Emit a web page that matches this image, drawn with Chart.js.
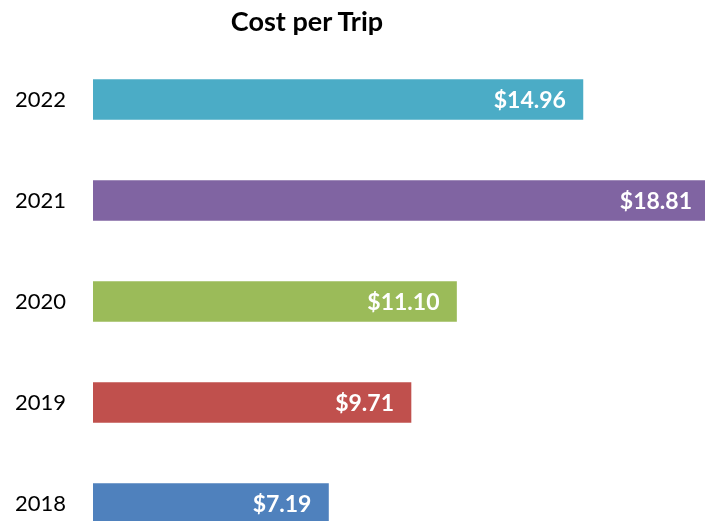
<!DOCTYPE html>
<html>
<head>
<meta charset="utf-8">
<script src="https://cdn.jsdelivr.net/npm/chart.js@4"></script>
<style>
    html, body { margin: 0; padding: 0; background: #fff; overflow: hidden; }
    #frame { position: relative; width: 705px; height: 521px; overflow: hidden; }
    #costChart { position: absolute; left: 0; top: 0; }
    #title {
        position: absolute; left: 157px; top: 7px; width: 300px;
        text-align: center; font: bold 27px Lato, sans-serif; line-height: 27px; color: #000;
    }
</style>
</head>
<body>
<div id="frame">
    <canvas id="costChart" width="720" height="560"></canvas>
    <div id="title">Cost per Trip</div>
</div>
<script>
const years = ['2022', '2021', '2020', '2019', '2018'];
const costPerTrip = [14.96, 18.81, 11.10, 9.71, 7.19];
const barColors = ['#4BACC6', '#8064A2', '#9BBB59', '#C0504D', '#4F81BD'];

// white value labels drawn inside the end of each bar
const valueLabels = {
    id: 'valueLabels',
    afterDatasetsDraw(chart) {
        const ctx = chart.ctx;
        const meta = chart.getDatasetMeta(0);
        ctx.save();
        ctx.font = 'bold 23px Lato, sans-serif';
        ctx.fillStyle = '#fff';
        ctx.textAlign = 'right';
        ctx.textBaseline = 'middle';
        meta.data.forEach(function (bar, i) {
            ctx.fillText('$' + costPerTrip[i].toFixed(2), bar.x - 17, bar.y + 1);
        });
        ctx.restore();
    }
};

new Chart(document.getElementById('costChart').getContext('2d'), {
    type: 'bar',
    data: {
        labels: years,
        datasets: [{
            data: costPerTrip,
            backgroundColor: barColors,
            barThickness: 40
        }]
    },
    options: {
        indexAxis: 'y',
        responsive: false,
        animation: false,
        layout: { padding: { top: 49, right: 11, bottom: 6, left: 0 } },
        plugins: {
            legend: { display: false },
            tooltip: { enabled: false },
            title: { display: false }
        },
        scales: {
            x: { display: false, min: 0, max: 18.81 },
            y: {
                grid: { display: false, drawTicks: false },
                border: { display: false },
                ticks: {
                    color: '#000',
                    padding: 27,
                    font: { family: 'Lato', size: 22 }
                },
                afterFit: function (axis) {
                    axis.width = 93;
                    axis.paddingTop = 0;
                    axis.paddingBottom = 0;
                }
            }
        }
    },
    plugins: [valueLabels]
});
</script>
</body>
</html>
